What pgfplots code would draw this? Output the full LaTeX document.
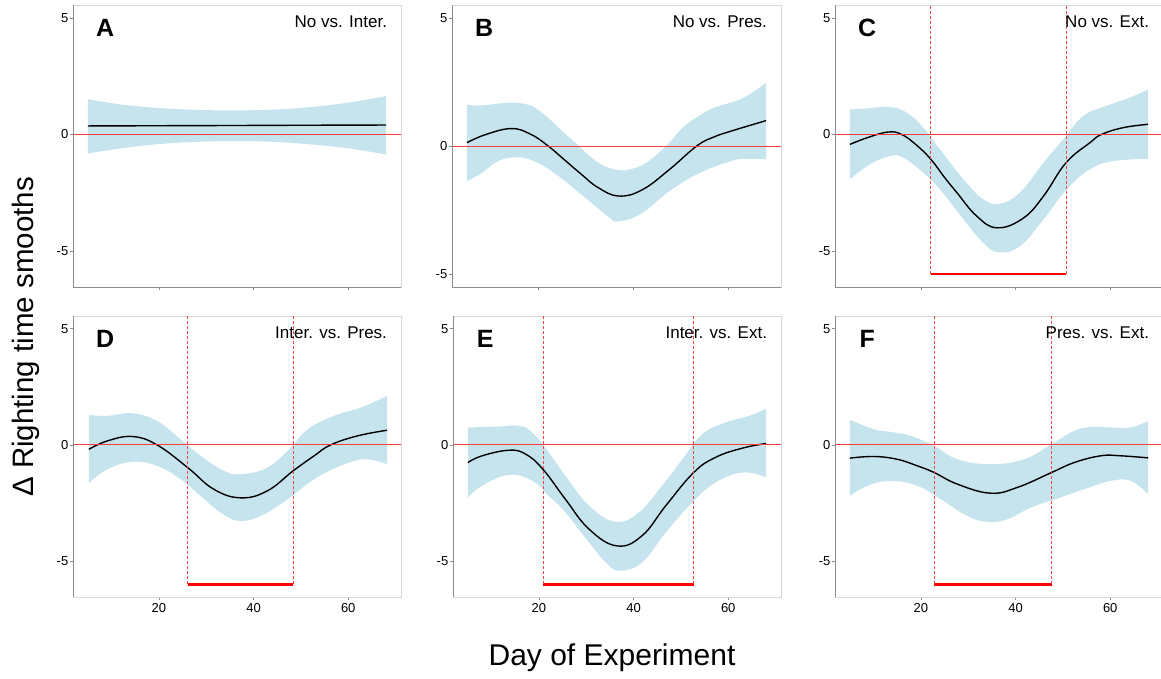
\documentclass[border=0pt]{standalone}
\usepackage{fontspec}
\setmainfont{Liberation Sans}
\usepackage{pgfplots}
\pgfplotsset{compat=1.18}
\usepgfplotslibrary{fillbetween}

\definecolor{band}{RGB}{198,228,237}
\definecolor{frameDark}{RGB}{140,140,140}
\definecolor{frameLight}{RGB}{215,215,215}
\definecolor{zeroRed}{RGB}{250,60,60}
\definecolor{dashRed}{RGB}{245,70,70}

\pgfplotsset{
  panel/.style={
    scale only axis, width=328pt, height=282pt,
    anchor=north west,
    xmin=1.85, xmax=71.15, ymin=-6.55, ymax=5.55,
    ytick={-5,0,5}, yticklabels={-5,0,5},
    xtick={20,40,60}, xticklabels={},
    xtick pos=bottom, ytick pos=left,
    tick align=outside, major tick length=3pt,
    tick style={frameDark, line width=0.6pt},
    axis line style={frameLight, line width=0.6pt},
    ticklabel style={font=\fontsize{13}{13}\selectfont},
    yticklabel style={inner sep=1.5pt},
    /pgf/number format/assume math mode=true,
  },
  bottomrow/.style={height=281pt, xticklabels={20,40,60}},
  fit/.style={draw=black, line width=1.4pt, smooth, tension=0.7},
  env/.style={draw=none, smooth, tension=0.7},
  bar/.style={draw=red, color=red, line width=2.6pt},
}
% reference line at zero and the limits of the significant window
\newcommand{\zeroline}{\draw[color=zeroRed, line width=0.8pt] (axis cs:1.85,0) -- (axis cs:71.15,0);}
\newcommand{\sigline}[1]{\draw[color=dashRed, line width=0.85pt, dash pattern=on 3pt off 2pt] (axis cs:#1,-6) -- (axis cs:#1,5.55);}
\newcommand{\frameLR}{%
  \draw[frameDark, line width=0.7pt] (rel axis cs:0,1) -- (rel axis cs:0,0) -- (rel axis cs:1,0);}
\newcommand{\letter}[1]{\node[font=\fontsize{25}{25}\selectfont\bfseries] at (rel axis cs:0.098,0.92) {#1};}
\newcommand{\contrast}[1]{\node[anchor=east, font=\fontsize{17}{17}\selectfont] at (rel axis cs:0.968,0.94) {#1};}

\begin{document}
\begin{tikzpicture}

% A
\begin{axis}[panel, at={(73pt,-5pt)}]
\addplot[name path=hi, env] coordinates {(5,1.51) (12,1.28) (20,1.13) (28,1.05) (36,1.03) (44,1.06) (52,1.17) (60,1.36) (68,1.64)};
\addplot[name path=lo, env] coordinates {(5,-0.82) (12,-0.6) (20,-0.42) (28,-0.32) (36,-0.29) (44,-0.32) (52,-0.43) (60,-0.6) (68,-0.86)};
\addplot[band] fill between[of=hi and lo];
\addplot[fit] coordinates {(5,0.36) (20,0.37) (36,0.38) (50,0.39) (68,0.40)};
\zeroline
\frameLR
\letter{A}
\contrast{No vs. Inter.}
\end{axis}

% B
\begin{axis}[panel, at={(452pt,-5pt)}, width=329pt, ymin=-5.5, ymax=5.5]
\addplot[name path=hi, env] coordinates {(5,1.6) (8,1.58) (12,1.66) (15.1,1.69) (18,1.6) (20,1.41) (22.8,0.98) (25.6,0.49) (28,0.1) (30.6,-0.35) (33.5,-0.74) (36.9,-0.94) (40,-0.88) (43.2,-0.6) (47.5,0.1) (50.3,0.69) (53.8,1.17) (57.3,1.51) (63,1.86) (68,2.47)};
\addplot[name path=lo, env] coordinates {(5,-1.37) (8,-1.07) (11,-0.65) (14.4,-0.45) (18.6,-0.55) (23.5,-1.07) (29.2,-1.91) (34.8,-2.76) (36.9,-2.94) (41.8,-2.63) (47.5,-1.78) (53.8,-1.07) (60.8,-0.58) (64,-0.5) (68,-0.52)};
\addplot[band] fill between[of=hi and lo];
\addplot[fit] coordinates {(5,0.13) (9,0.45) (14.4,0.68) (18.5,0.45) (22.1,0) (25.6,-0.55) (29.2,-1.12) (32.6,-1.62) (36.9,-1.95) (41.8,-1.72) (47.5,-0.94) (53.4,0) (57,0.35) (60.8,0.59) (68,0.99)};
\zeroline
\frameLR
\letter{B}
\contrast{No vs. Pres.}
\end{axis}

% C
\begin{axis}[panel, at={(835pt,-5pt)}]
\addplot[name path=hi, env] coordinates {(5,1.07) (9,1.12) (13.5,1.17) (17,0.93) (20.5,0.29) (24,-0.64) (29,-1.93) (33.2,-2.79) (36.7,-2.97) (40.9,-2.5) (45.9,-1.22) (50.1,-0.21) (54.3,0.79) (59.2,1.22) (64.2,1.58) (68,1.93)};
\addplot[name path=lo, env] coordinates {(5,-1.93) (9.2,-1.29) (13.5,-0.93) (16.3,-1.0) (20.5,-1.65) (24,-2.36) (29,-3.65) (33.2,-4.66) (36.4,-5.06) (40.9,-4.8) (45.9,-3.65) (50.8,-2.36) (55.7,-1.5) (60.6,-1.15) (68,-1.05)};
\addplot[band] fill between[of=hi and lo];
\addplot[bar] coordinates {(22.1,-6) (50.65,-6)};
\addplot[fit] coordinates {(5,-0.43) (9,-0.12) (13.1,0.10) (15.9,0) (19,-0.45) (22.1,-1.07) (25,-1.85) (27.6,-2.5) (31.8,-3.51) (36.1,-4.01) (41.6,-3.6) (45.9,-2.65) (50.65,-1.22) (55.7,-0.36) (58.2,0) (62.8,0.29) (68,0.43)};
\zeroline
\sigline{22.1}
\sigline{50.65}
\frameLR
\letter{C}
\contrast{No vs. Ext.}
\end{axis}

% D
\begin{axis}[panel, bottomrow, at={(73pt,-316pt)}]
\addplot[name path=hi, env] coordinates {(5.2,1.29) (9.1,1.25) (14.4,1.36) (19.6,1.03) (24.6,0.24) (28.8,-0.47) (33.8,-1.12) (37.3,-1.26) (42.9,-0.98) (47.9,-0.11) (51.4,0.67) (57,1.25) (62.7,1.61) (68.2,2.11)};
\addplot[name path=lo, env] coordinates {(5.2,-1.65) (9.1,-1.05) (14.4,-0.73) (19.6,-0.9) (24.6,-1.48) (28.8,-2.2) (33,-2.91) (36.9,-3.27) (41.5,-3.06) (47.2,-2.34) (52.8,-1.48) (58.4,-0.9) (63.4,-0.62) (68.2,-0.83)};
\addplot[band] fill between[of=hi and lo];
\addplot[bar] coordinates {(26.1,-6) (48.35,-6)};
\addplot[fit] coordinates {(5.2,-0.19) (9.1,0.17) (14.4,0.36) (19.6,0) (26.1,-0.98) (31.6,-1.91) (37.3,-2.28) (42.9,-1.98) (48.35,-1.12) (52.8,-0.47) (56.3,0) (62,0.39) (68.2,0.63)};
\zeroline
\sigline{26.1}
\sigline{48.35}
\frameLR
\letter{D}
\contrast{Inter. vs. Pres.}
\end{axis}

% E
\begin{axis}[panel, bottomrow, at={(453pt,-316pt)}]
\addplot[name path=hi, env] coordinates {(5,0.75) (11.5,0.79) (15.8,0.82) (18.6,0.53) (22.1,-0.33) (25.6,-1.33) (30.6,-2.62) (36.2,-3.31) (41.1,-2.91) (46,-1.76) (50.3,-0.62) (54.5,0.46) (59.4,0.96) (64.4,1.25) (68,1.56)};
\addplot[name path=lo, env] coordinates {(5,-2.27) (8,-1.76) (13.7,-1.29) (18.6,-1.55) (22.1,-2.2) (25.6,-2.91) (30.6,-4.2) (34.1,-5.06) (37,-5.42) (41.8,-5.06) (46.8,-3.77) (52.4,-2.48) (57.3,-1.62) (63,-1.19) (68,-1.4)};
\addplot[band] fill between[of=hi and lo];
\addplot[bar] coordinates {(20.85,-6) (52.7,-6)};
\addplot[fit] coordinates {(5,-0.76) (8,-0.47) (13.7,-0.23) (17.2,-0.4) (20.85,-1.05) (25.6,-2.34) (30.6,-3.63) (36.5,-4.35) (41.8,-3.91) (46.8,-2.62) (52.7,-1.19) (57.3,-0.54) (63,-0.14) (68,0.06)};
\zeroline
\sigline{20.85}
\sigline{52.7}
\frameLR
\letter{E}
\contrast{Inter. vs. Ext.}
\end{axis}

% F
\begin{axis}[panel, bottomrow, at={(835pt,-316pt)}]
\addplot[name path=hi, env] coordinates {(5,1.08) (10.1,0.67) (13.6,0.56) (17.8,0.39) (22.8,-0.04) (27.7,-0.62) (34.7,-0.83) (41.8,-0.62) (47.6,0.03) (52.4,0.6) (55.9,0.77) (60.1,0.75) (64.3,0.75) (68,1.03)};
\addplot[name path=lo, env] coordinates {(5,-2.2) (8.7,-1.76) (13.6,-1.55) (19.2,-1.76) (24.2,-2.34) (29.8,-3.06) (34,-3.31) (38.3,-3.2) (43.2,-2.7) (48.8,-2.31) (54.5,-1.91) (60.1,-1.55) (64.3,-1.55) (68,-2.12)};
\addplot[band] fill between[of=hi and lo];
\addplot[bar] coordinates {(22.8,-6) (47.6,-6)};
\addplot[fit] coordinates {(5,-0.57) (10.1,-0.5) (15,-0.62) (19.2,-0.9) (22.8,-1.19) (27.7,-1.69) (34.7,-2.08) (40.4,-1.83) (47.6,-1.19) (52.4,-0.76) (58,-0.47) (62.2,-0.47) (68,-0.56)};
\zeroline
\sigline{22.8}
\sigline{47.6}
\frameLR
\letter{F}
\contrast{Pres. vs. Ext.}
\end{axis}

\node[rotate=90, font=\fontsize{29.5}{29.5}\selectfont] at (26pt,-337pt) {Δ Righting time smooths};
\node[font=\fontsize{30}{30}\selectfont] at (612pt,-658pt) {Day of Experiment};
\pgfresetboundingbox
\path[use as bounding box] (0pt,0pt) rectangle (1161pt,-679pt);
\end{tikzpicture}
\end{document}
